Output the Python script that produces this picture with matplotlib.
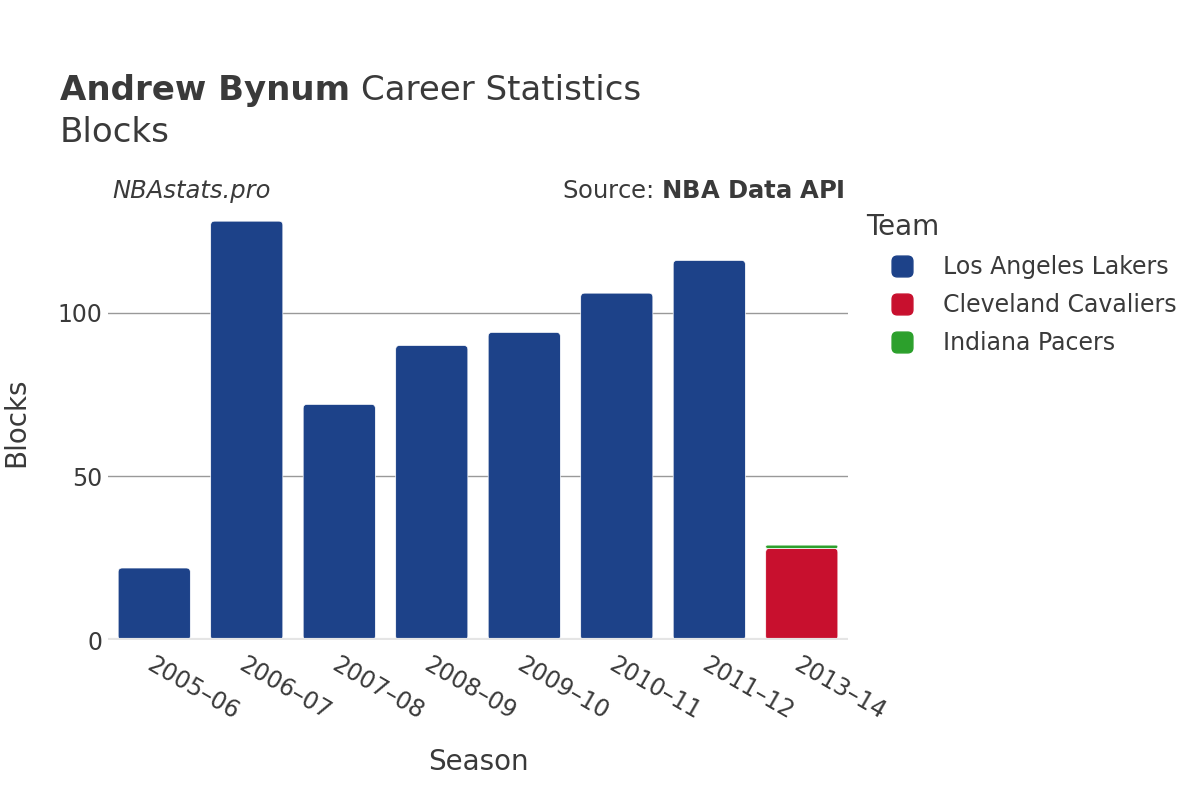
import matplotlib
matplotlib.use("Agg")
import matplotlib.pyplot as plt
import numpy as np
from matplotlib.lines import Line2D
from matplotlib.patches import FancyBboxPatch
from matplotlib.markers import MarkerStyle

seasons = ["2005–06", "2006–07", "2007–08", "2008–09", "2009–10", "2010–11", "2011–12", "2013–14"]
teams = ["Los Angeles Lakers", "Cleveland Cavaliers", "Indiana Pacers"]
colors = ["#1d4289", "#c8102e", "#2ca02c"]
lakers = [22, 128, 72, 90, 94, 106, 116, 0]
cavaliers = [0, 0, 0, 0, 0, 0, 0, 28]
pacers = [0, 0, 0, 0, 0, 0, 0, 1]
series = [lakers, cavaliers, pacers]

plt.rcParams['font.family'] = ['DejaVu Sans']
txt = "#3a3a3a"

fig = plt.figure(figsize=(12, 8), dpi=100)
ax = fig.add_axes([0.09, 0.2, 0.6167, 0.544])
ymax = 133
ax.set_xlim(-0.5, len(seasons) - 0.5)
ax.set_ylim(0, ymax)

# pixel scales
ax_w_px = 0.6167 * 1200
ax_h_px = 0.544 * 800
px_x = ax_w_px / len(seasons)
px_y = ax_h_px / ymax
aspect = px_x / px_y

width = 0.78
bottom = np.zeros(len(seasons))
for vals, c in zip(series, colors):
    v = np.array(vals, dtype=float)
    for i, h in enumerate(v):
        if h <= 0:
            continue
        h_px = h * px_y
        r_px = min(4.0, h_px / 2.0)
        r = r_px / px_x
        p = FancyBboxPatch((i - width / 2, bottom[i]), width, h,
                           boxstyle=f"round,pad=0,rounding_size={r}",
                           mutation_aspect=aspect, facecolor=c, edgecolor="white",
                           linewidth=0.5, zorder=3)
        ax.add_patch(p)
    bottom += v

ax.set_yticks([0, 50, 100])
ax.yaxis.grid(True, color="#999999", linewidth=1, zorder=0)
ax.axhline(0, color="#e5e5e5", linewidth=3, zorder=4)
for s in ax.spines.values():
    s.set_visible(False)
ax.tick_params(axis="both", length=0, labelsize=17, colors=txt)
ax.tick_params(axis="y", pad=4)
ax.tick_params(axis="x", pad=9)
ax.set_xticks(np.arange(len(seasons)))
ax.set_xticklabels(seasons, rotation=-30, ha="left", rotation_mode="anchor")
ax.set_xlabel("Season", fontsize=20, color=txt, labelpad=17)
ax.set_ylabel("Blocks", fontsize=20, color=txt, labelpad=20)

t1 = fig.text(0.05, 0.887, "Andrew Bynum", fontsize=24.5, fontweight="bold", color=txt, va="center")
fig.canvas.draw()
bb = t1.get_window_extent(fig.canvas.get_renderer())
fig.text((bb.x1 + 11) / 1200, 0.887, "Career Statistics", fontsize=24.5, color=txt, va="center")
fig.text(0.05, 0.834, "Blocks", fontsize=24.5, color=txt, va="center")
fig.text(0.094, 0.761, "NBAstats.pro", fontsize=17.5, style="italic", color=txt, va="center")
fig.text(0.704, 0.761, "Source: $\\bf{NBA\\ Data\\ API}$", fontsize=17.5, color=txt, va="center", ha="right")

rr = 0.25
sq = FancyBboxPatch((-0.5, -0.5), 1, 1, boxstyle=f"round,pad=0,rounding_size={rr}")
ms = MarkerStyle(sq.get_path())

handles = [Line2D([0], [0], marker=ms, color="w", markerfacecolor=c, markeredgecolor=c,
                  markersize=15, linewidth=0) for c in colors]
leg = fig.legend(handles, teams, loc="upper left", bbox_to_anchor=(0.714, 0.746), frameon=False,
                 fontsize=17, title="Team", title_fontsize=20, labelspacing=0.6,
                 handletextpad=0.25, borderaxespad=0, handlelength=3.0)
leg._legend_box.align = "left"
for t in leg.get_texts():
    t.set_color(txt)
leg.get_title().set_color(txt)

fig.savefig("out.png", dpi=100)
